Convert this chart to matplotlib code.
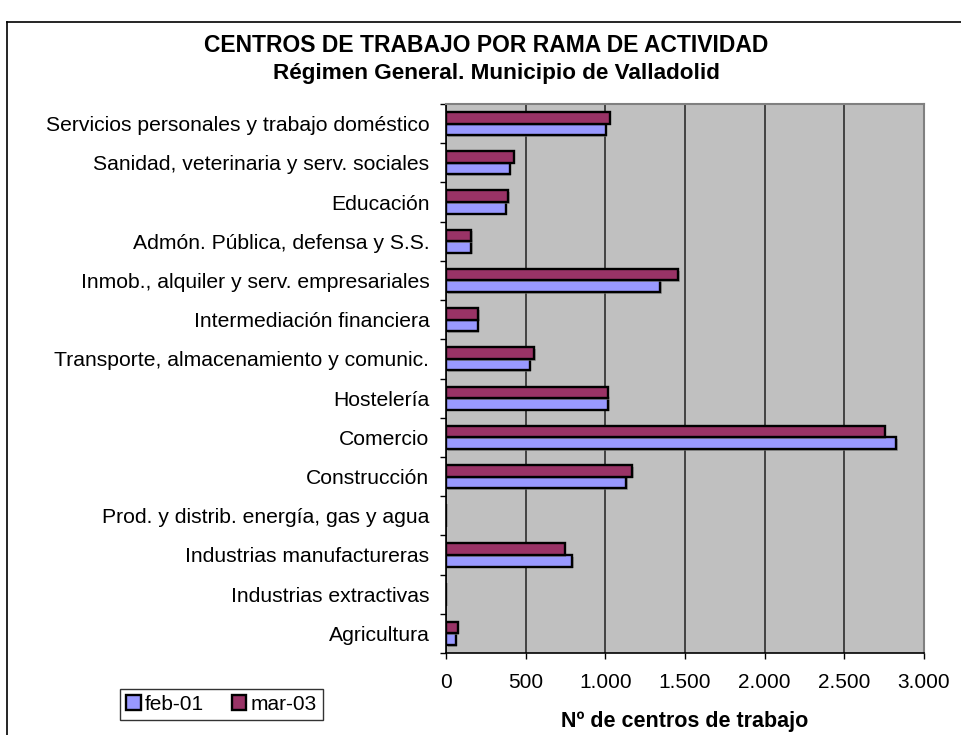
import matplotlib
matplotlib.use("Agg")
import matplotlib.pyplot as plt
import matplotlib.patheffects as pe
from matplotlib.lines import Line2D
import numpy as np

plt.rcParams['font.family'] = ['Liberation Sans', 'DejaVu Sans']

categories = [
    "Agricultura",
    "Industrias extractivas",
    "Industrias manufactureras",
    "Prod. y distrib. energía, gas y agua",
    "Construcción",
    "Comercio",
    "Hostelería",
    "Transporte, almacenamiento y comunic.",
    "Intermediación financiera",
    "Inmob., alquiler y serv. empresariales",
    "Admón. Pública, defensa y S.S.",
    "Educación",
    "Sanidad, veterinaria y serv. sociales",
    "Servicios personales y trabajo doméstico",
]
feb01 = [60, 0, 791, 0, 1129, 2827, 1018, 525, 198, 1343, 158, 374, 399, 1002]
mar03 = [74, 0, 744, 0, 1167, 2754, 1014, 552, 200, 1458, 160, 389, 424, 1028]
series_names = ["feb-01", "mar-03"]
xticks = [0, 500, 1000, 1500, 2000, 2500, 3000]
xtick_labels = ["0", "500", "1.000", "1.500", "2.000", "2.500", "3.000"]

W, H = 962, 735
fig = plt.figure(figsize=(W / 100, H / 100), dpi=100)
ax = fig.add_axes([446 / W, 1 - 653 / H, (924 - 446) / W, (653 - 104) / H])
ax.set_facecolor('#C0C0C0')

y = np.arange(len(categories))
h = 0.295
shadow = [pe.SimplePatchShadow(offset=(1.2, -1.2), shadow_rgbFace='#808080', alpha=0.6), pe.Normal()]
b1 = ax.barh(y - h / 2, feb01, height=h, color='#9999FF', edgecolor='black', linewidth=1.7,
             label=series_names[0], zorder=3)
b2 = ax.barh(y + h / 2, mar03, height=h, color='#993366', edgecolor='black', linewidth=1.7,
             label=series_names[1], zorder=3)
for b in list(b1) + list(b2):
    b.set_path_effects(shadow)

ax.set_xlim(0, 3000)
ax.set_ylim(-0.5, len(categories) - 0.5)
ax.set_xticks(xticks)
ax.set_xticklabels(xtick_labels, fontsize=15)
ax.set_yticks(y)
ax.set_yticklabels(categories, fontsize=15.2)
ax.set_yticks(np.arange(-0.5, len(categories), 1), minor=True)
ax.tick_params(axis='y', which='major', length=0, pad=12)
ax.tick_params(axis='y', which='minor', length=4.3, width=1, direction='out')
ax.tick_params(axis='x', which='major', length=4.3, width=1, direction='out', pad=10)
ax.xaxis.grid(True, color='#202020', linewidth=1.1, zorder=1)
ax.set_axisbelow(True)

for s in ['left', 'bottom']:
    ax.spines[s].set_color('black')
    ax.spines[s].set_linewidth(1.2)
for s in ['right', 'top']:
    ax.spines[s].set_color('#808080')
    ax.spines[s].set_linewidth(1.5)

ax.set_xlabel("Nº de centros de trabajo", fontsize=15.5, fontweight='bold', labelpad=14)

fig.text(0.5 * (205 + 768) / W, 1 - 45 / H, "CENTROS DE TRABAJO POR RAMA DE ACTIVIDAD",
         ha='center', va='center', fontsize=16.5, fontweight='bold')
fig.text(0.5 * (272 + 720) / W, 1 - 73 / H, "Régimen General. Municipio de Valladolid",
         ha='center', va='center', fontsize=16.2, fontweight='bold')

leg = fig.legend(handles=[b1, b2], labels=series_names, loc='lower left',
                 bbox_to_anchor=(120 / W, 1 - 720 / H, (323 - 120) / W, (720 - 682) / H),
                 mode='expand', ncol=2, fontsize=15, frameon=True, fancybox=False,
                 handlelength=0.7, handleheight=0.7, handletextpad=0.2, columnspacing=0.6,
                 borderpad=0.3, borderaxespad=0)
leg.get_frame().set_edgecolor('black')
leg.get_frame().set_linewidth(1)
for p in leg.get_patches():
    p.set_path_effects([])

# outer chart frame
fig.add_artist(Line2D([7 / W, 1], [1 - 22 / H, 1 - 22 / H], color='black', linewidth=1.2))
fig.add_artist(Line2D([7 / W, 7 / W], [1 - 22 / H, 0], color='black', linewidth=1.2))

fig.savefig("out.png", dpi=100)
